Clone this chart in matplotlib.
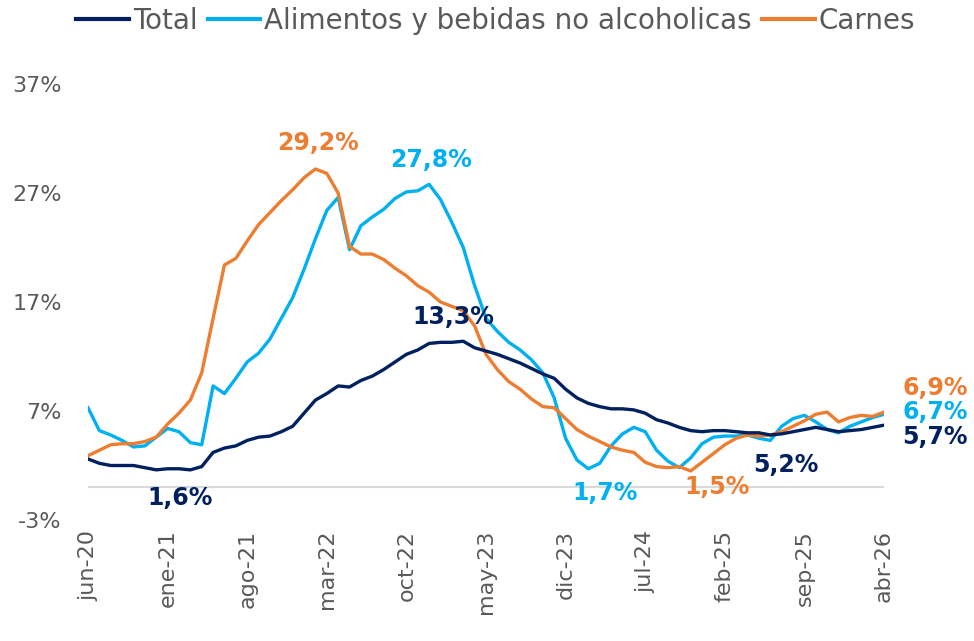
import numpy as np
import matplotlib
matplotlib.use("Agg")
import matplotlib.pyplot as plt

# monthly, jun-20 .. abr-26
months = ["ene", "feb", "mar", "abr", "may", "jun", "jul", "ago", "sep", "oct", "nov", "dic"]
labels = []
m, y = 5, 20
for _ in range(71):
    labels.append(f"{months[m]}-{y}")
    m += 1
    if m == 12:
        m, y = 0, y + 1

total = [2.6, 2.2, 2.0, 2.0, 2.0, 1.8, 1.6, 1.7, 1.7, 1.6,
         1.9, 3.2, 3.6, 3.8, 4.3, 4.6, 4.7, 5.1, 5.6, 6.8,
         8.0, 8.6, 9.3, 9.2, 9.8, 10.2, 10.8, 11.5, 12.2, 12.6,
         13.2, 13.3, 13.3, 13.4, 12.8, 12.5, 12.2, 11.8, 11.4, 10.9,
         10.4, 10.0, 9.0, 8.2, 7.7, 7.4, 7.2, 7.2, 7.1, 6.8,
         6.2, 5.9, 5.5, 5.2, 5.1, 5.2, 5.2, 5.1, 5.0, 5.0,
         4.8, 4.9, 5.1, 5.3, 5.5, 5.3, 5.1, 5.2, 5.3, 5.5, 5.7]

alimentos = [7.3, 5.2, 4.8, 4.3, 3.7, 3.8, 4.6, 5.4, 5.1, 4.1,
             3.9, 9.3, 8.6, 10.0, 11.5, 12.3, 13.6, 15.5, 17.4, 20.0,
             22.8, 25.4, 26.6, 21.8, 24.0, 24.8, 25.5, 26.5, 27.1, 27.2,
             27.8, 26.4, 24.3, 22.0, 18.5, 15.5, 14.3, 13.3, 12.6, 11.7,
             10.5, 8.2, 4.5, 2.5, 1.7, 2.2, 3.8, 4.9, 5.5, 5.1,
             3.4, 2.4, 1.8, 2.7, 4.0, 4.6, 4.7, 4.7, 4.8, 4.5,
             4.3, 5.6, 6.3, 6.6, 6.0, 5.3, 5.0, 5.6, 6.0, 6.4, 6.7]

carnes = [2.9, 3.4, 3.9, 4.0, 4.0, 4.2, 4.6, 5.8, 6.8, 8.0,
          10.5, 15.5, 20.4, 21.0, 22.6, 24.1, 25.2, 26.3, 27.3, 28.4,
          29.2, 28.8, 27.0, 22.1, 21.4, 21.4, 20.9, 20.1, 19.4, 18.5,
          17.9, 17.0, 16.6, 16.2, 14.8, 12.2, 10.8, 9.7, 9.0, 8.1,
          7.4, 7.3, 6.3, 5.3, 4.7, 4.2, 3.7, 3.4, 3.2, 2.3,
          1.9, 1.8, 1.9, 1.5, 2.3, 3.1, 3.9, 4.5, 4.8, 4.7,
          4.8, 5.1, 5.6, 6.1, 6.7, 6.9, 6.0, 6.4, 6.6, 6.5, 6.9]

NAVY = "#002060"
BLUE = "#00B0F0"
ORANGE = "#ED7D31"
GRAY = "#595959"

fig = plt.figure(figsize=(9.74, 6.41), dpi=100)
ax = fig.add_axes([88 / 974, 1 - 520 / 641, (884 - 88) / 974, (520 - 84) / 641])

x = np.arange(len(total))
ax.axhline(0, color="#d9d9d9", lw=1.5, zorder=1)
ax.plot(x, total, color=NAVY, lw=2.4, label="Total", zorder=3)
ax.plot(x, alimentos, color=BLUE, lw=2.4, label="Alimentos y bebidas no alcoholicas", zorder=2)
ax.plot(x, carnes, color=ORANGE, lw=2.4, label="Carnes", zorder=2)

ax.set_xlim(0, 70)
ax.set_ylim(-3, 37)
ax.set_yticks([-3, 7, 17, 27, 37])
ax.set_yticklabels([f"{v}%" for v in [-3, 7, 17, 27, 37]])
ax.set_xticks(x[::7])
ax.set_xticklabels(labels[::7], rotation=90)
ax.tick_params(axis="both", length=0, labelsize=16, labelcolor=GRAY)
ax.tick_params(axis="y", pad=19)
ax.tick_params(axis="x", pad=7)
for s in ax.spines.values():
    s.set_visible(False)

# data labels
lab = dict(fontsize=17, fontweight="bold", ha="center", va="center", clip_on=False)
ax.text(20.2, 31.6, "29,2%", color=ORANGE, **lab)
ax.text(30.2, 30.0, "27,8%", color=BLUE, **lab)
ax.text(32.1, 15.6, "13,3%", color=NAVY, **lab)
ax.text(8.1, -1.0, "1,6%", color=NAVY, **lab)
ax.text(45.5, -0.5, "1,7%", color=BLUE, **lab)
ax.text(55.3, 0.0, "1,5%", color=ORANGE, **lab)
ax.text(61.4, 2.0, "5,2%", color=NAVY, **lab)
ax.text(74.5, 9.1, "6,9%", color=ORANGE, **lab)
ax.text(74.5, 6.9, "6,7%", color=BLUE, **lab)
ax.text(74.5, 4.6, "5,7%", color=NAVY, **lab)

leg = fig.legend(loc="center", bbox_to_anchor=(0.509, 1 - 21 / 641), ncol=3, frameon=False,
                 fontsize=20, handlelength=1.9, handletextpad=0.15, columnspacing=0.35)
for t in leg.get_texts():
    t.set_color(GRAY)
for h in leg.legend_handles:
    h.set_linewidth(3)

fig.savefig("out.png", dpi=100)
